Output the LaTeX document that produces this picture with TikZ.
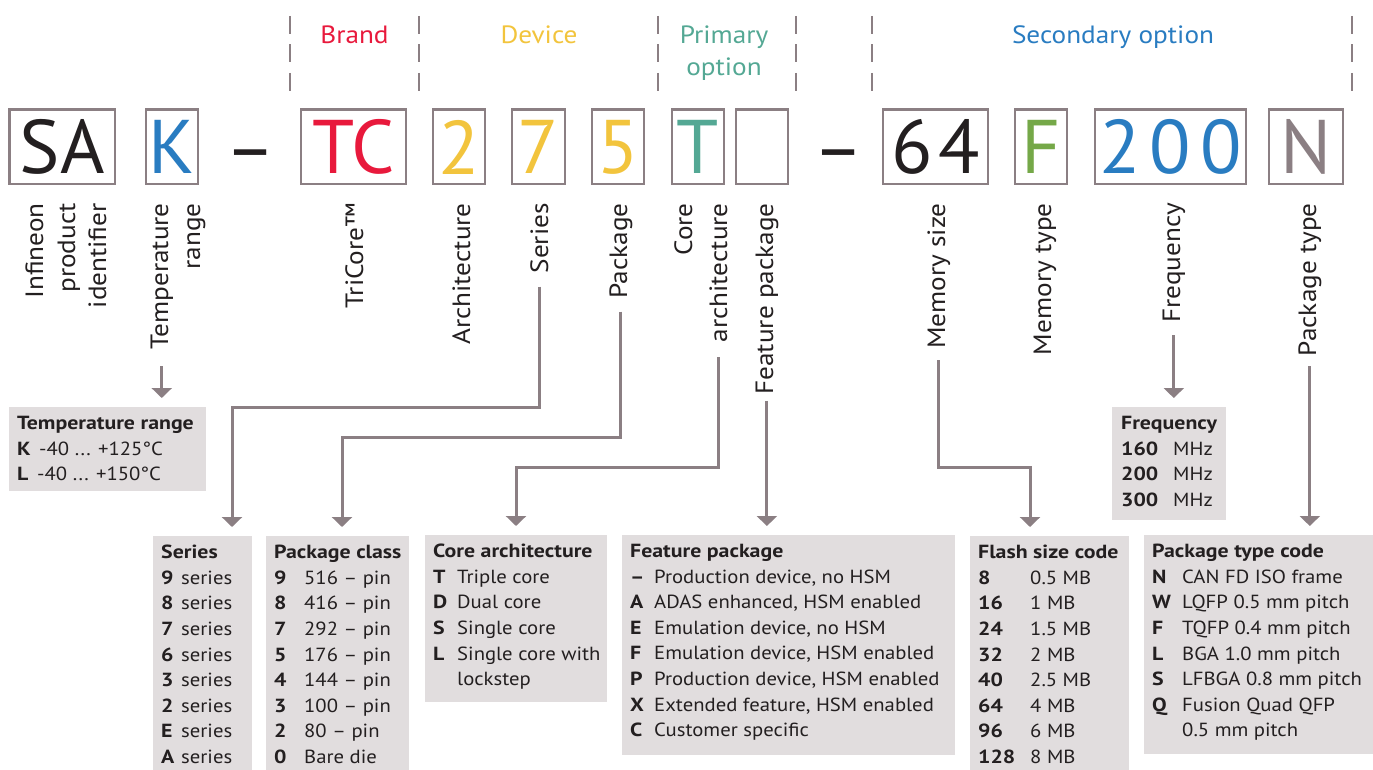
\documentclass[tikz,border=0pt]{standalone}
\usepackage{fontspec}
\setmainfont{PT Sans}[FakeStretch=1.09, BoldFeatures={FakeStretch=1.15}]
\newfontfamily\codefont{PT Sans}
\usetikzlibrary{arrows.meta}
\definecolor{lineg}{RGB}{139,127,131}
\definecolor{tabfill}{RGB}{225,221,222}
\definecolor{ink}{RGB}{35,31,32}
\definecolor{brandred}{RGB}{232,25,60}
\definecolor{devyel}{RGB}{242,196,61}
\definecolor{primteal}{RGB}{84,168,148}
\definecolor{secblue}{RGB}{41,124,193}
\definecolor{memgreen}{RGB}{117,168,72}
\newcommand\kw[2]{\makebox[#1pt][l]{\bfseries #2}}
\begin{document}
\begin{tikzpicture}[x=1pt,y=-1pt,
  lbl/.style={rotate=90, anchor=base east, inner sep=0pt, text=ink, font=\fontsize{25}{32}\selectfont},
  hdr/.style={anchor=base, inner sep=0pt, font=\fontsize{25}{32}\selectfont},
  codebox/.style={draw=lineg, line width=2.5pt, minimum height=74.5pt, inner sep=0pt, font=\codefont\fontsize{76}{80}\selectfont},
  dashtxt/.style={anchor=base, inner sep=0pt, text=ink, font=\codefont\fontsize{76}{80}\selectfont},
  tabbox/.style={fill=tabfill, inner sep=0pt, anchor=north west},
  tabtext/.style={anchor=north west, inner sep=0pt, align=left, text=ink, font=\fontsize{19}{25.6}\selectfont},
  conn/.style={draw=lineg, line width=3pt, -{Triangle[width=20pt,length=10pt]}, shorten >=9pt},
  sepline/.style={draw=lineg, line width=2pt, dash pattern=on 18pt off 10.5pt}
]
\useasboundingbox (0,0) rectangle (1373,770);

% header separators
\draw[sepline] (290,16) -- (290,92);
\draw[sepline] (419,16) -- (419,92);
\draw[sepline] (658,16) -- (658,92);
\draw[sepline] (796,16) -- (796,92);
\draw[sepline] (872,16) -- (872,92);
\draw[sepline] (1352,16) -- (1352,92);

% headers
\node[hdr, text=brandred] (hbrand) at (354.5,44) {Brand};
\node[hdr, text=devyel] (hdevice) at (539,44) {Device};
\node[hdr, anchor=north, align=center, text=primteal] (hprim) at (724,25.5) {Primary\\option};
\node[hdr, text=secblue] (hsec) at (1113,44) {Secondary option};

% code boxes
\node[codebox, minimum width=105.5pt, text=ink] (bSA) at (62.25,147) {SA};
\node[codebox, minimum width=52pt, text=secblue] (bK) at (172,147) {K};
\node[dashtxt] (dash1) at (251,175) {–};
\node[codebox, minimum width=105pt, text=brandred] (bTC) at (353.5,147) {TC};
\node[codebox, minimum width=52pt, text=devyel] (b2) at (459,147) {2};
\node[codebox, minimum width=53pt, text=devyel] (b7) at (538.5,147) {7};
\node[codebox, minimum width=52pt, text=devyel] (b5) at (618,147) {5};
\node[codebox, minimum width=52pt, text=primteal] (bT) at (698,147) {T};
\node[codebox, minimum width=52pt] (bE) at (762,147) {};
\node[dashtxt] (dash2) at (839,175) {–};
\node[codebox, minimum width=105pt, text=ink] (b64) at (935.5,147) {6\hspace{6pt}4};
\node[codebox, minimum width=52pt, text=memgreen] (bF) at (1041,147) {F};
\node[codebox, minimum width=151pt, text=secblue] (b200) at (1170.5,147) {2\hspace{9pt}0\hspace{9pt}0};
\node[codebox, minimum width=74pt, text=lineg] (bN) at (1306,147) {N};

% rotated labels
\node[lbl] (inf1) at (43,203) {Infineon};
\node[lbl] (inf2) at (75,203) {product};
\node[lbl] (inf3) at (106,203) {identifier};
\node[lbl] (tmp1) at (168,203) {Temperature};
\node[lbl] (tmp2) at (200,203) {range};
\node[lbl] (tric) at (363,203) {TriCore™};
\node[lbl] (arch) at (470,203) {Architecture};
\node[lbl] (ser) at (548,203) {Series};
\node[lbl] (pkg) at (627,203) {Package};
\node[lbl] (core) at (692,203) {Core};
\node[lbl] (carch) at (727,203) {architecture};
\node[lbl] (feat) at (773,203) {Feature package};
\node[lbl] (msize) at (945,203) {Memory size};
\node[lbl] (mtype) at (1051,203) {Memory type};
\node[lbl] (freq) at (1180,203) {Frequency};
\node[lbl] (ptype) at (1316,203) {Package type};

% table boxes
\node[tabbox, minimum width=197pt, minimum height=84pt] (temptab) at (9,407) {};
\node[tabbox, minimum width=99pt, minimum height=234pt] (sertab) at (153,536) {};
\node[tabbox, minimum width=143pt, minimum height=234pt] (pctab) at (266,536) {};
\node[tabbox, minimum width=182pt, minimum height=167pt] (coretab) at (425,535) {};
\node[tabbox, minimum width=333pt, minimum height=220pt] (feattab) at (622,535) {};
\node[tabbox, minimum width=159pt, minimum height=234pt] (flashtab) at (970,536) {};
\node[tabbox, minimum width=114pt, minimum height=113pt] (freqtab) at (1112,407) {};
\node[tabbox, minimum width=229pt, minimum height=219pt] (ptab) at (1144,535) {};

% table texts
\node[tabtext] (temptxt) at (17,416) {\textbf{Temperature range}\\
\kw{22}{K}-40 ... +125°C\\
\kw{20}{L}-40 ... +150°C};

\node[tabtext] (sertxt) at (161,545) {\textbf{Series}\\
\kw{20}{9}series\\ \kw{20}{8}series\\ \kw{20}{7}series\\ \kw{20}{6}series\\
\kw{20}{3}series\\ \kw{20}{2}series\\ \kw{20}{E}series\\ \kw{20}{A}series};

\node[tabtext] (pctxt) at (274,545) {\textbf{Package class}\\
\kw{30}{9}516 – pin\\ \kw{30}{8}416 – pin\\ \kw{30}{7}292 – pin\\ \kw{30}{5}176 – pin\\
\kw{30}{4}144 – pin\\ \kw{30}{3}100 – pin\\ \kw{30}{2}80 – pin\\ \kw{30}{0}Bare die};

\node[tabtext] (coretxt) at (433,544) {\textbf{Core architecture}\\
\kw{24}{T}Triple core\\ \kw{24}{D}Dual core\\ \kw{24}{S}Single core\\
\kw{24}{L}Single core with\\ \kw{24}{}lockstep};

\node[tabtext] (feattxt) at (630,544) {\textbf{Feature package}\\
\kw{24}{–}Production device, no HSM\\
\kw{24}{A}ADAS enhanced, HSM enabled\\
\kw{24}{E}Emulation device, no HSM\\
\kw{24}{F}Emulation device, HSM enabled\\
\kw{24}{P}Production device, HSM enabled\\
\kw{24}{X}Extended feature, HSM enabled\\
\kw{24}{C}Customer specific};

\node[tabtext] (flashtxt) at (978,545) {\textbf{Flash size code}\\
\kw{52}{8}0.5 MB\\ \kw{52}{16}1 MB\\ \kw{52}{24}1.5 MB\\ \kw{52}{32}2 MB\\
\kw{52}{40}2.5 MB\\ \kw{52}{64}4 MB\\ \kw{52}{96}6 MB\\ \kw{52}{128}8 MB};

\node[tabtext] (freqtxt) at (1121,416) {\textbf{Frequency}\\
\kw{52}{160}MHz\\ \kw{52}{200}MHz\\ \kw{52}{300}MHz};

\node[tabtext] (ptxt) at (1152,544) {\textbf{Package type code}\\
\kw{30}{N}CAN FD ISO frame\\ \kw{30}{W}LQFP 0.5 mm pitch\\ \kw{30}{F}TQFP 0.4 mm pitch\\
\kw{30}{L}BGA 1.0 mm pitch\\ \kw{30}{S}LFBGA 0.8 mm pitch\\ \kw{30}{Q}Fusion Quad QFP\\
\kw{30}{}0.5 mm pitch};

% lane coordinates
\coordinate (serlane) at (232,407);
\coordinate (pkglane) at (342,437);
\coordinate (corelane) at (516,467);
\coordinate (memlane) at (1030,467);

% connectors
\draw[conn] (tmp1.west) ++(0,17) -- (tmp1.west |- temptab.north);
\draw[conn] (ser.west) ++(0,13) |- (serlane) -- (serlane |- sertab.north);
\draw[conn] (pkg.west) ++(0,13) |- (pkglane) -- (pkglane |- pctab.north);
\draw[conn] (carch.west) ++(0,15) |- (corelane) -- (corelane |- coretab.north);
\draw[conn] (feat.west) ++(0,6) -- (feat.west |- feattab.north);
\draw[conn] (msize.west) ++(0,11) |- (memlane) -- (memlane |- flashtab.north);
\draw[conn] (freq.west) ++(0,12) -- (freq.west |- freqtab.north);
\draw[conn] (ptype.west) ++(0,10) -- (ptype.west |- ptab.north);
\end{tikzpicture}
\end{document}
